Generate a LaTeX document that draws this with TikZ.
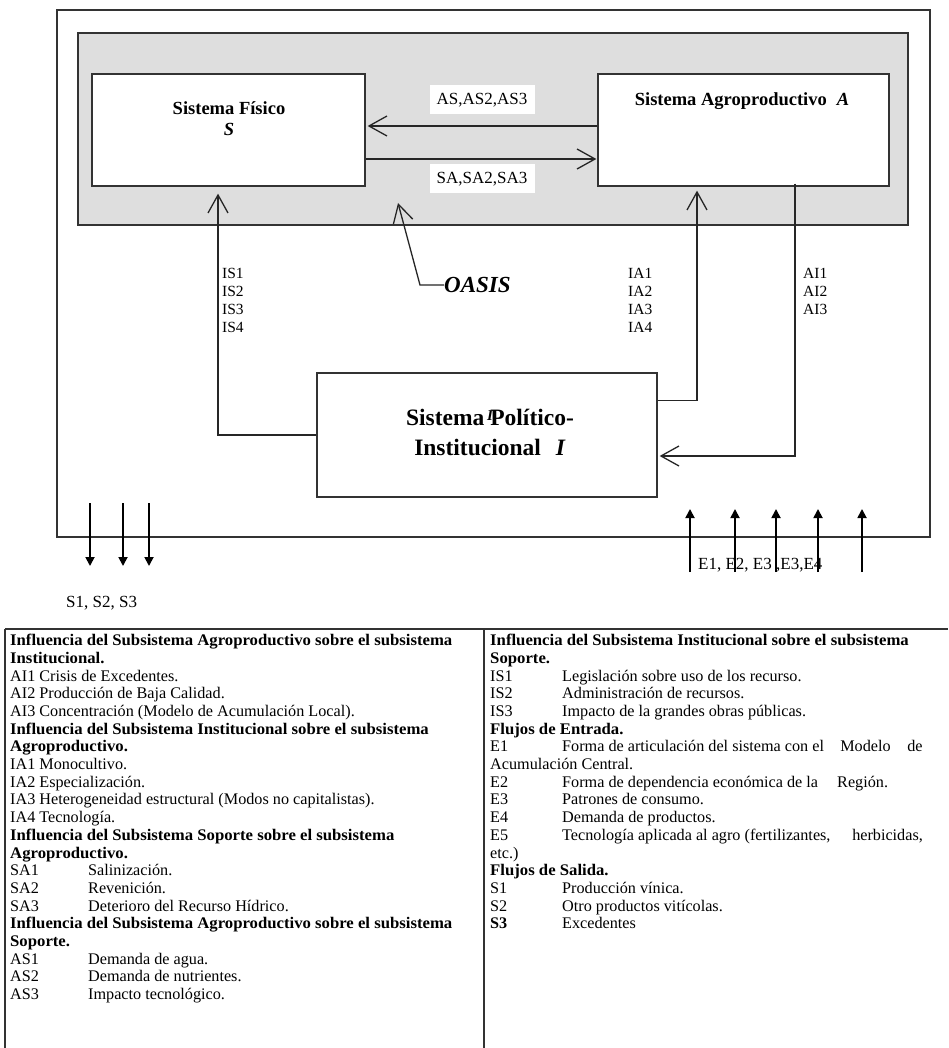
\documentclass[tikz,border=0pt]{standalone}
\usepackage{fontspec}
\setmainfont{Liberation Serif}
\usetikzlibrary{arrows.meta}
\newcommand\hb[1]{\scalebox{1.032}[1]{\textbf{#1}}}
\begin{document}
\begin{tikzpicture}[x=1pt,y=-1pt,
 frame/.style={draw=black!80, line width=1.3pt, inner sep=0},
 box/.style={draw=black!80, line width=1.3pt, fill=white, inner sep=0},
 conn/.style={draw=black!85, line width=1.3pt},
 barb/.style={conn, -{Straight Barb[length=18pt,width=20pt]}},
 tri/.style={draw=black, line width=1.8pt, -{Triangle[length=9pt,width=9pt]}},
 lab/.style={inner sep=0, font=\fontsize{17}{18}\selectfont},
 stack/.style={inner sep=0, anchor=north west, align=left, font=\fontsize{15.5}{18}\selectfont},
 col/.style={inner sep=0, anchor=north west, align=left, font=\fontsize{16.2}{17.7}\selectfont},
 title/.style={inner sep=0, align=center, font=\fontsize{18.5}{21}\selectfont\bfseries},
 rule/.style={draw=black!80, line width=1.6pt},
]
\path[use as bounding box, fill=white] (0,0) rectangle (948,1048);

% frames
\node[frame, minimum width=873pt, minimum height=527pt] (outer) at (493.5,273.5) {};
\node[frame, fill=black!13, minimum width=830pt, minimum height=192pt] (oasisbox) at (493,129) {};

% boxes
\node[box, minimum width=273pt, minimum height=112pt] (S) at (228.5,130) {};
\node[box, minimum width=291pt, minimum height=112pt] (A) at (743.5,130) {};
\node[box, minimum width=340pt, minimum height=124pt] (I) at (487,435) {};

\node[title] (tS) at (229,119) {Sistema Físico\\\textit{S}};
\node[title] (tA) at (742,101) {Sistema Agroproductivo\hspace{10pt}\textit{A}};
\node[title, font=\fontsize{23.5}{30}\selectfont\bfseries] (tI) at (490,432)
  {Sistema\ \llap{\raisebox{5pt}{\fontsize{15}{15}\selectfont\textit{I}}\kern-3pt}Político-\\Institucional\hspace{15pt}\textit{I}};

% labels
\node[lab, fill=white, minimum width=105pt, minimum height=29pt] (las) at (482,100) {AS,AS2,AS3};
\node[lab, fill=white, minimum width=105pt, minimum height=29pt] (lsa) at (482,179) {SA,SA2,SA3};
\node[stack] (lis) at (222,268) {IS1\\IS2\\IS3\\IS4};
\node[stack] (lia) at (628,268) {IA1\\IA2\\IA3\\IA4};
\node[stack] (lai) at (803,268) {AI1\\AI2\\AI3};
\node[inner sep=0, anchor=west, font=\fontsize{23}{23}\selectfont\bfseries\itshape] (oasis) at (444,285) {OASIS};
\node[lab, anchor=west] (le) at (698,565) {E1, E2, E3 ,E3,E4};
\node[lab, anchor=west] (ls) at (66,603) {S1, S2, S3};

% connectors
\draw[barb, shorten >=2pt] ([yshift=4pt]A.west) -- ([yshift=4pt]S.east);
\draw[barb, shorten >=1pt] ([yshift=-29pt]S.east) -- ([yshift=-29pt]A.west);
\draw[barb, shorten >=7pt] (I.west) -| ([xshift=-10.5pt]S.south);
\draw[barb, shorten >=4pt] ([yshift=-28pt]I.north east) -| ([xshift=-46.5pt]A.south);
\draw[barb, shorten >=2pt] ([xshift=51.5pt,yshift=3pt]A.south) |- ([yshift=-21pt]I.east);
\coordinate (oasisBend) at (420,285);
\coordinate (oasisTip) at (398,203);
\draw[barb] (oasis.west) -- (oasisBend) -- (oasisTip);

\foreach \x [count=\k] in {90,123,149} {
  \coordinate (so\k) at (\x,503);
  \coordinate (se\k) at (\x,566);
  \draw[tri] (so\k) -- (se\k);
}
\foreach \x [count=\k] in {690,735,776,818,862} {
  \coordinate (eo\k) at (\x,572);
  \coordinate (ee\k) at (\x,509);
  \draw[tri] (eo\k) -- (ee\k);
}

% table
\draw[rule, line width=2.2pt] (5,629) -- (948,629);
\draw[rule] (5,629) -- (5,1048);
\draw[rule, line width=1.2pt] (484,629) -- (484,1048);

\node[col] (colL) at (10,634) {%
\hb{Influencia del Subsistema Agroproductivo sobre el subsistema}\\
\hb{Institucional.}\\
AI1 Crisis de Excedentes.\\
AI2 Producción de Baja Calidad.\\
AI3 Concentración (Modelo de Acumulación Local).\\
\hb{Influencia del Subsistema Institucional sobre el subsistema}\\
\hb{Agroproductivo.}\\
IA1 Monocultivo.\\
IA2 Especialización.\\
IA3 Heterogeneidad estructural (Modos no capitalistas).\\
IA4 Tecnología.\\
\hb{Influencia del Subsistema Soporte sobre el subsistema}\\
\hb{Agroproductivo.}\\
\makebox[78pt][l]{SA1}Salinización.\\
\makebox[78pt][l]{SA2}Revenición.\\
\makebox[78pt][l]{SA3}Deterioro del Recurso Hídrico.\\
\hb{Influencia del Subsistema Agroproductivo sobre el subsistema}\\
\hb{Soporte.}\\
\makebox[78pt][l]{AS1}Demanda de agua.\\
\makebox[78pt][l]{AS2}Demanda de nutrientes.\\
\makebox[78pt][l]{AS3}Impacto tecnológico.};

\node[col] (colR) at (490,634) {%
\hb{Influencia del Subsistema Institucional sobre el subsistema}\\
\hb{Soporte.}\\
\makebox[72pt][l]{IS1}Legislación sobre uso de los recurso.\\
\makebox[72pt][l]{IS2}Administración de recursos.\\
\makebox[72pt][l]{IS3}Impacto de la grandes obras públicas.\\
\hb{Flujos de Entrada.}\\
\makebox[72pt][l]{E1}\makebox[278pt][l]{Forma de articulación del sistema con el}\makebox[67pt][l]{Modelo}de\\
Acumulación Central.\\
\makebox[72pt][l]{E2}\makebox[275pt][l]{Forma de dependencia económica de la}Región.\\
\makebox[72pt][l]{E3}Patrones de consumo.\\
\makebox[72pt][l]{E4}Demanda de productos.\\
\makebox[72pt][l]{E5}\makebox[290pt][l]{Tecnología aplicada al agro (fertilizantes,}herbicidas,\\
etc.)\\
\hb{Flujos de Salida.}\\
\makebox[72pt][l]{S1}Producción vínica.\\
\makebox[72pt][l]{S2}Otro productos vitícolas.\\
\makebox[72pt][l]{\textbf{S3}}Excedentes};
\end{tikzpicture}
\end{document}
